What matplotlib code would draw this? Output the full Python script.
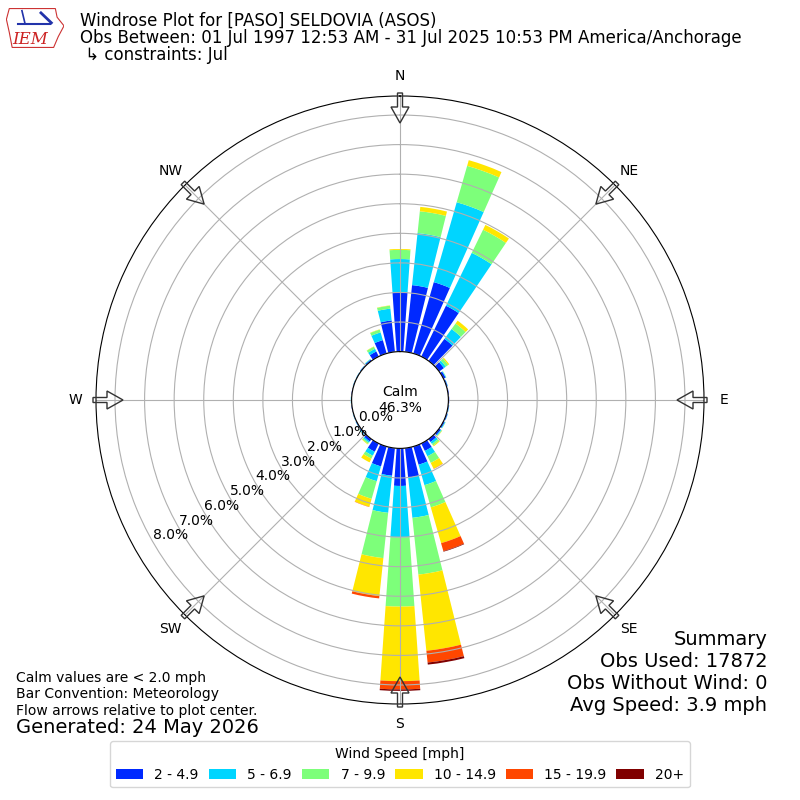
import numpy as np
import matplotlib
matplotlib.use("Agg")
import matplotlib.pyplot as plt
from matplotlib.patches import FancyArrow, Polygon

# -------------------------------------------------
# Data (percent of observations, per 10 degree bin)
# -------------------------------------------------

directions = np.arange(0, 360, 10)

speed_labels = ["2 - 4.9", "5 - 6.9", "7 - 9.9", "10 - 14.9", "15 - 19.9", "20+"]

pct_2_5 = [2.00, 2.27, 2.51, 1.91, 0.92, 0.20, 0.08, 0.04, 0.03, 0.03, 0.03, 0.04,
           0.05, 0.07, 0.12, 0.28, 0.64, 1.00, 1.27, 0.94, 0.70, 0.31, 0.10, 0.04,
           0.03, 0.02, 0.02, 0.02, 0.02, 0.02, 0.02, 0.03, 0.05, 0.19, 0.47, 1.07]

pct_5_7 = [1.13, 1.77, 2.81, 1.99, 0.41, 0.08, 0.02, 0.01, 0.00, 0.00, 0.01, 0.01,
           0.02, 0.03, 0.08, 0.20, 0.72, 1.37, 1.74, 1.26, 0.52, 0.15, 0.05, 0.02,
           0.01, 0.01, 0.00, 0.01, 0.00, 0.01, 0.01, 0.01, 0.02, 0.10, 0.27, 0.40]

pct_7_10 = [0.31, 0.74, 1.28, 0.87, 0.23, 0.10, 0.01, 0.00, 0.00, 0.00, 0.00, 0.00,
            0.01, 0.02, 0.07, 0.25, 0.78, 1.93, 2.34, 1.54, 0.62, 0.11, 0.05, 0.01,
            0.00, 0.00, 0.00, 0.00, 0.00, 0.00, 0.00, 0.00, 0.01, 0.08, 0.10, 0.10]

pct_10_15 = [0.03, 0.15, 0.20, 0.18, 0.12, 0.04, 0.00, 0.00, 0.00, 0.00, 0.00, 0.00,
             0.00, 0.01, 0.03, 0.22, 1.26, 2.59, 2.52, 1.29, 0.28, 0.14, 0.02, 0.00,
             0.00, 0.00, 0.00, 0.00, 0.00, 0.00, 0.00, 0.00, 0.00, 0.01, 0.01, 0.01]

pct_15_20 = [0.00, 0.00, 0.00, 0.00, 0.00, 0.00, 0.00, 0.00, 0.00, 0.00, 0.00, 0.00,
             0.00, 0.00, 0.00, 0.01, 0.28, 0.40, 0.28, 0.08, 0.01, 0.00, 0.00, 0.00,
             0.00, 0.00, 0.00, 0.00, 0.00, 0.00, 0.00, 0.00, 0.00, 0.00, 0.00, 0.00]

pct_20_up = [0.00, 0.00, 0.00, 0.00, 0.00, 0.00, 0.00, 0.00, 0.00, 0.00, 0.00, 0.00,
             0.00, 0.00, 0.00, 0.00, 0.02, 0.07, 0.05, 0.00, 0.00, 0.00, 0.00, 0.00,
             0.00, 0.00, 0.00, 0.00, 0.00, 0.00, 0.00, 0.00, 0.00, 0.00, 0.00, 0.00]

calm_percent = 46.3
obs_used = 17872
obs_without_wind = 0
avg_speed = 3.9

compass_labels = ["N", "NE", "E", "SE", "S", "SW", "W", "NW"]
ring_values = np.arange(0, 9)

# -------------------------------------------------
# Figure
# -------------------------------------------------

fig = plt.figure(figsize=(8, 8), dpi=100)

ax = fig.add_axes([0.12, 0.12, 0.76, 0.76], projection="polar")
ax.set_theta_zero_location("N")
ax.set_theta_direction(-1)
ax.set_rorigin(-1.636)
ax.set_ylim(0, 8.643)

colors = plt.get_cmap("jet")(np.linspace(0, 1, 7))[1:]

series = [pct_2_5, pct_5_7, pct_7_10, pct_10_15, pct_15_20, pct_20_up]
theta = np.deg2rad(directions)
width = np.deg2rad(8.0)
bottom = np.zeros(len(directions))

handles = []
for values, color, label in zip(series, colors, speed_labels):
    values = np.array(values)
    bars = ax.bar(
        theta,
        values,
        width=width,
        bottom=bottom,
        color=color,
        linewidth=0,
        label=label
    )
    handles.append(bars)
    bottom = bottom + values

# compass directions
ax.set_xticks(np.deg2rad(np.arange(0, 360, 45)))
ax.set_xticklabels(compass_labels, fontsize=10)
ax.tick_params(axis="x", pad=4)

# radial rings
ax.set_yticks(ring_values)
ax.set_yticklabels([f"{v:.1f}%" for v in ring_values], fontsize=10)
ax.set_rlabel_position(240)

ax.grid(True, color="#b0b0b0", linewidth=0.8)

# calm in the middle
ax.text(
    0.5, 0.5,
    f"Calm\n{calm_percent:.1f}%",
    transform=ax.transAxes,
    ha="center",
    va="center",
    fontsize=10
)

# flow arrows at the compass points, pointing inward
for ang in np.deg2rad(np.arange(0, 360, 45)):
    ux, uy = np.sin(ang), np.cos(ang)
    r_tail = 307.0 / 608.0
    r_tip = 277.0 / 608.0
    ax.add_patch(
        FancyArrow(
            0.5 + r_tail * ux,
            0.5 + r_tail * uy,
            (r_tip - r_tail) * ux,
            (r_tip - r_tail) * uy,
            width=5.0 / 608.0,
            head_width=18.0 / 608.0,
            head_length=16.0 / 608.0,
            length_includes_head=True,
            transform=ax.transAxes,
            facecolor="none",
            edgecolor="#333333",
            linewidth=1.0,
            clip_on=False,
            zorder=5
        )
    )

# -------------------------------------------------
# Texts
# -------------------------------------------------

fig.text(0.1, 0.974, "Windrose Plot for [PASO] SELDOVIA (ASOS)",
         fontsize=12, va="center")
fig.text(0.1, 0.953,
         "Obs Between: 01 Jul 1997 12:53 AM - 31 Jul 2025 10:53 PM America/Anchorage",
         fontsize=12, va="center")
fig.text(0.1, 0.931, " \u21b3 constraints: Jul", fontsize=12, va="center")

fig.text(
    0.959, 0.106,
    "Summary\n"
    f"Obs Used: {obs_used}\n"
    f"Obs Without Wind: {obs_without_wind}\n"
    f"Avg Speed: {avg_speed:.1f} mph",
    ha="right",
    va="bottom",
    multialignment="right",
    fontsize=14
)

fig.text(
    0.02, 0.103,
    "Calm values are < 2.0 mph\n"
    "Bar Convention: Meteorology\n"
    "Flow arrows relative to plot center.",
    fontsize=10,
    va="bottom"
)

fig.text(0.02, 0.079, "Generated: 24 May 2026", fontsize=14, va="bottom")

# small IEM logo
logo = fig.add_axes([0.008, 0.938, 0.072, 0.054])
logo.set_xlim(0, 1)
logo.set_ylim(0, 1)
logo.axis("off")
logo.add_patch(
    Polygon(
        [[0.05, 0.95], [0.85, 0.95], [0.88, 0.75], [1.0, 0.55], [0.9, 0.3],
         [0.82, 0.05], [0.1, 0.05], [0.05, 0.4], [0.0, 0.7]],
        closed=True,
        facecolor="white",
        edgecolor="#cc3333",
        linewidth=0.8
    )
)
logo.plot([0.2, 0.75], [0.6, 0.6], color="#2233aa", linewidth=1.5)
logo.plot([0.27, 0.32], [0.9, 0.62], color="#2233aa", linewidth=1.2)
logo.plot([0.6, 0.78], [0.85, 0.62], color="#2233aa", linewidth=2.0)
logo.text(0.42, 0.24, "IEM", color="#cc2222", fontsize=12, style="italic",
          family="DejaVu Serif", ha="center", va="center")

# -------------------------------------------------
# Legend
# -------------------------------------------------

fig.legend(
    handles=handles,
    labels=speed_labels,
    loc="lower center",
    bbox_to_anchor=(0.5, 0.007),
    ncol=6,
    title="Wind Speed [mph]",
    fontsize=10,
    title_fontsize=10,
    columnspacing=0.7
)

fig.savefig("out.png", dpi=100)
